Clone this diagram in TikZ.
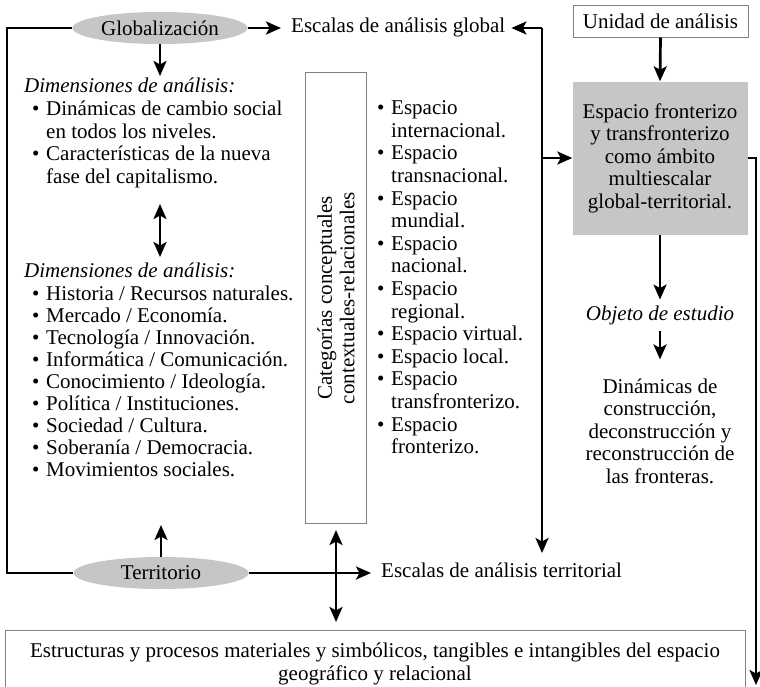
\documentclass[tikz,border=0pt]{standalone}
\usepackage{fontspec}
\setmainfont{Liberation Serif}
\usetikzlibrary{arrows.meta,shapes.geometric,calc}
\definecolor{fillg}{HTML}{C6C6C6}
\definecolor{edgeg}{HTML}{808080}
\newcommand\fs{\fontsize{21}{22.5}\selectfont}
\newcommand\bul{\makebox[14pt][l]{\textbullet}}
\newcommand\ind{\hspace*{14pt}}
\begin{document}
\begin{tikzpicture}[x=1pt,y=-1pt,
  txt/.style={font=\fs, inner sep=0pt, anchor=west, text height=14pt, text depth=4.5pt},
  ctxt/.style={font=\fs, inner sep=0pt, text height=14pt, text depth=4.5pt},
  ell/.style={ellipse, fill=fillg, minimum width=175pt, minimum height=32pt, inner sep=0pt, font=\fs},
  conn/.style={line width=2.7pt},
  arr/.style={line width=2.7pt, -{Stealth[length=15pt,width=13pt,inset=3.5pt]}},
  darr/.style={line width=2.7pt, {Stealth[length=15pt,width=13pt,inset=3.5pt]}-{Stealth[length=15pt,width=13pt,inset=3.5pt]}},
  thinbox/.style={draw=edgeg, line width=1pt, inner sep=0pt}]
\useasboundingbox (0,0) rectangle (760,686);

% ellipses
\node[ell] (glob) at (160,28) {Globalización};
\node[ell] (terr) at (161,573) {Territorio};

% left frame
\coordinate (ltop) at (7,28);
\coordinate (lbot) at (7,573);
\draw[conn] (glob.west) -- (ltop) -- (lbot) -- (terr.west);

% Escalas
\node[txt] (escg) at (291,28) {Escalas de análisis global};
\node[txt] (esct) at (381,573) {Escalas de análisis territorial};
\draw[arr] (glob.east) -- ($(escg.west)+(-10,0)$);
\draw[arr] (terr.east) -- ($(esct.west)+(-10,0)$);

% left column
\coordinate (a1) at (160,76);
\draw[arr] (glob.south) -- (a1);
\node[txt] (dim1) at (24,88) {\itshape Dimensiones de análisis:};
\node[txt] (g1) at (32,111) {\bul Dinámicas de cambio social};
\node[txt] (g2) at (32,133.5) {\ind en todos los niveles.};
\node[txt] (g3) at (32,156) {\bul Características de la nueva};
\node[txt] (g4) at (32,178.5) {\ind fase del capitalismo.};
\coordinate (m1) at (160,204);
\coordinate (m2) at (160,257);
\draw[darr] (m1) -- (m2);
\node[txt] (dim2) at (24,273) {\itshape Dimensiones de análisis:};
\foreach \t [count=\i] in {Historia / Recursos naturales., Mercado / Economía., Tecnología / Innovación., Informática / Comunicación., Conocimiento / Ideología., Política / Instituciones., Sociedad / Cultura., Soberanía / Democracia., Movimientos sociales.}
  \node[txt] (h\i) at (32,{296+22*(\i-1)}) {\bul\t};
\coordinate (u1) at (161,525);
\draw[arr] (terr.north) -- (u1);

% categories box
\node[thinbox, minimum width=61pt, minimum height=451pt] (cat) at (336,298) {};
\node[font=\fs, rotate=90, align=center, inner sep=0pt] (catt) at (cat.center) {Categorías conceptuales\\contextuales-relacionales};

% right list
\foreach \x/\t [count=\i] in {\bul/Espacio, \ind/internacional., \bul/Espacio, \ind/transnacional., \bul/Espacio, \ind/mundial., \bul/Espacio, \ind/nacional., \bul/Espacio, \ind/regional., \bul/Espacio virtual., \bul/Espacio local., \bul/Espacio, \ind/transfronterizo., \bul/Espacio, \ind/fronterizo.}
  \node[txt] (r\i) at (377,{110+22.6*(\i-1)}) {\x\t};

% big vertical connector
\coordinate (vtop) at (542,28);
\coordinate (vbot) at (542,553);
\draw[arr] (vtop) -- ($(escg.east)+(6,0)$);
\draw[arr] (vtop) -- (vbot);

% right column
\node[thinbox, minimum width=175pt, minimum height=32pt, font=\fs] (unid) at (660.5,21) {Unidad de análisis};
\node[fill=fillg, minimum width=175pt, minimum height=153pt, align=center, font=\fs, inner sep=0pt] (gray) at (660,158) {Espacio fronterizo\\y transfronterizo\\como ámbito\\multiescalar\\global-territorial.};
\draw[arr] (unid.south) -- (gray.north);
\draw[arr] (vtop |- gray.west) -- (gray.west);
\coordinate (rbot) at (756,685);
\draw[arr] (gray.east) -| (rbot);
\node[ctxt] (obj) at (660,316) {\itshape Objeto de estudio};
\draw[arr] (gray.south) -- ($(obj.north)+(0,-7)$);
\draw[arr] ($(obj.south)+(0,6)$) -- ($(obj.south)+(0,34)$);
\node[font=\fs, align=center, inner sep=0pt] (dyn) at (660,431) {Dinámicas de\\construcción,\\deconstrucción y\\reconstrucción de\\las fronteras.};

% bottom box
\node[thinbox, minimum width=740pt, minimum height=58pt] (botbox) at (375,659) {};
\node[font=\fs, align=center, inner sep=0pt] (bott) at (375,664) {Estructuras y procesos materiales y simbólicos, tangibles e intangibles del espacio\\geográfico y relacional};
\coordinate (d1) at (336,530);
\coordinate (d2) at (336,622);
\draw[darr] (d1) -- (d2);
\end{tikzpicture}
\end{document}
